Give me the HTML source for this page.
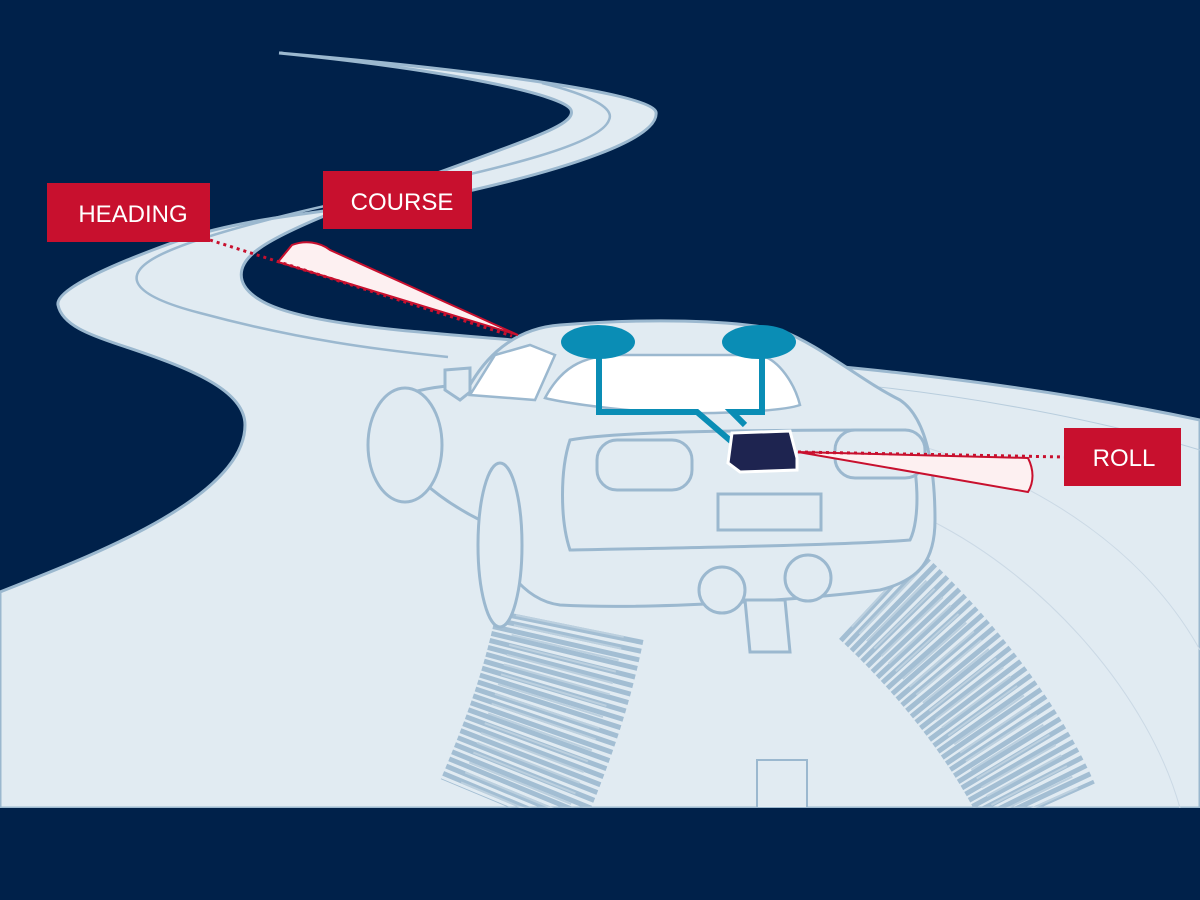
<!DOCTYPE html>
<html><head><style>body{margin:0;background:#00214a}svg{display:block}</style></head><body>
<svg width="1200" height="900" viewBox="0 0 1200 900" xmlns="http://www.w3.org/2000/svg" font-family="Liberation Sans, sans-serif">
<rect width="1200" height="900" fill="#00214a"/>
<!-- road -->
<path d="M279,53 C420,65 650,90 656,112 C660,140 560,170 473,190 C380,208 260,212 180,240 C110,265 55,290 58,305 C62,325 90,335 120,345 C190,368 245,390 245,425 C245,500 80,560 0,592 L0,808 L1200,808 L1200,420 C1000,378 800,360 560,345 C540,343 525,341 513,340 C420,332 300,325 260,300 C235,285 235,265 260,248 C300,220 420,180 500,150 C555,130 575,120 571,110 C565,95 450,70 279,53 Z" fill="#e1ebf2" stroke="#9bb8cf" stroke-width="3"/>
<path d="M542,83 C590,95 615,108 609,120 C600,145 500,168 400,190 C300,210 200,235 160,255 C120,275 130,295 200,313 C300,340 380,350 448,357" fill="none" stroke="#9bb8cf" stroke-width="2.5"/>
<path d="M800,380 C950,390 1100,420 1200,450" fill="none" stroke="#b8cddd" stroke-width="1"/>
<path d="M900,440 C1050,480 1150,560 1200,650" fill="none" stroke="#cbd9e5" stroke-width="1"/>
<path d="M930,520 C1050,580 1150,700 1180,808" fill="none" stroke="#cbd9e5" stroke-width="1"/>
<rect x="757" y="760" width="50" height="48" fill="#e1ebf2" stroke="#9bb8cf" stroke-width="2"/>
<!-- tire tracks -->
<path d="M570,625 C555,700 530,760 510,808" fill="none" stroke="#a3bed3" stroke-width="150" stroke-dasharray="5 3"/>
<path d="M570,625 C555,700 530,760 510,808" fill="none" stroke="#bcd0df" stroke-width="110" stroke-dasharray="2 9"/>
<path d="M880,595 C950,660 1010,740 1040,808" fill="none" stroke="#a3bed3" stroke-width="120" stroke-dasharray="5 3"/>
<path d="M880,595 C950,660 1010,740 1040,808" fill="none" stroke="#bcd0df" stroke-width="85" stroke-dasharray="2 9"/>
<!-- car -->
<g fill="#e1ebf2" stroke="#9bb8cf" stroke-width="3">
<path d="M470,385 C490,350 520,328 560,325 C650,318 730,320 780,330 C820,345 860,380 900,400 C930,420 935,480 935,520 C935,560 920,580 880,590 C800,600 650,610 560,605 C520,600 500,560 480,520 C440,500 400,470 380,420 C375,400 420,385 470,385 Z"/>
<ellipse cx="405" cy="445" rx="37" ry="57"/>
<ellipse cx="500" cy="545" rx="22" ry="82"/>
<path d="M570,440 C620,430 800,430 905,430 C920,470 920,520 910,540 C850,545 680,548 570,550 C560,520 560,470 570,440 Z"/>
<rect x="597" y="440" width="95" height="50" rx="20"/>
<rect x="835" y="430" width="90" height="48" rx="20"/>
<rect x="718" y="494" width="103" height="36"/>
<path d="M745,600 L785,600 L790,652 L750,652 Z"/>
<circle cx="722" cy="590" r="23"/><circle cx="808" cy="578" r="23"/>
<path d="M445,370 L470,368 L470,392 L460,400 L445,390 Z"/>
</g>
<path d="M470,395 L495,355 L530,345 L555,355 L535,400 Z" fill="#fff" stroke="#9bb8cf" stroke-width="2.5"/>
<path d="M545,398 C560,370 580,355 620,355 L760,355 C780,360 795,385 800,405 C780,412 700,415 650,412 C600,408 560,402 545,398 Z" fill="#fff" stroke="#9bb8cf" stroke-width="2.5"/>
<!-- antennas -->
<g stroke="#0a8db5" stroke-width="6" fill="none">
<path d="M599,345 L599,412 L697,412 L732,442"/>
<path d="M762,345 L762,412 L732,412 L745,425"/>
</g>
<ellipse cx="598" cy="342" rx="37" ry="17" fill="#0a8db5"/>
<ellipse cx="759" cy="342" rx="37" ry="17" fill="#0a8db5"/>
<path d="M732,433 L790,431 L797,458 L797,470 L740,472 L728,463 Z" fill="#1e2450" stroke="#fff" stroke-width="3"/>
<!-- wedges -->
<path d="M278,262 L292,245 C305,240 320,242 330,250 L518,335 Z" fill="#fdf0f1" stroke="#c8102e" stroke-width="2"/>
<path d="M210,240 L512,336" stroke="#c8102e" stroke-width="3" stroke-dasharray="3 4"/>
<path d="M798,452 L1028,458 C1034,470 1034,482 1028,492 Z" fill="#fdf0f1" stroke="#c8102e" stroke-width="2"/>
<path d="M798,452 L1066,457" stroke="#c8102e" stroke-width="3" stroke-dasharray="3 4"/>
<!-- labels -->
<rect x="47" y="183" width="163" height="59" fill="#c8102e"/>
<text x="133" y="222" fill="#fff" font-size="24" text-anchor="middle">HEADING</text>
<rect x="323" y="171" width="149" height="58" fill="#c8102e"/>
<text x="402" y="210" fill="#fff" font-size="24" text-anchor="middle">COURSE</text>
<rect x="1064" y="428" width="117" height="58" fill="#c8102e"/>
<text x="1124" y="466" fill="#fff" font-size="24" text-anchor="middle">ROLL</text>
<rect y="808" width="1200" height="92" fill="#00214a"/>
</svg>
</body></html>
